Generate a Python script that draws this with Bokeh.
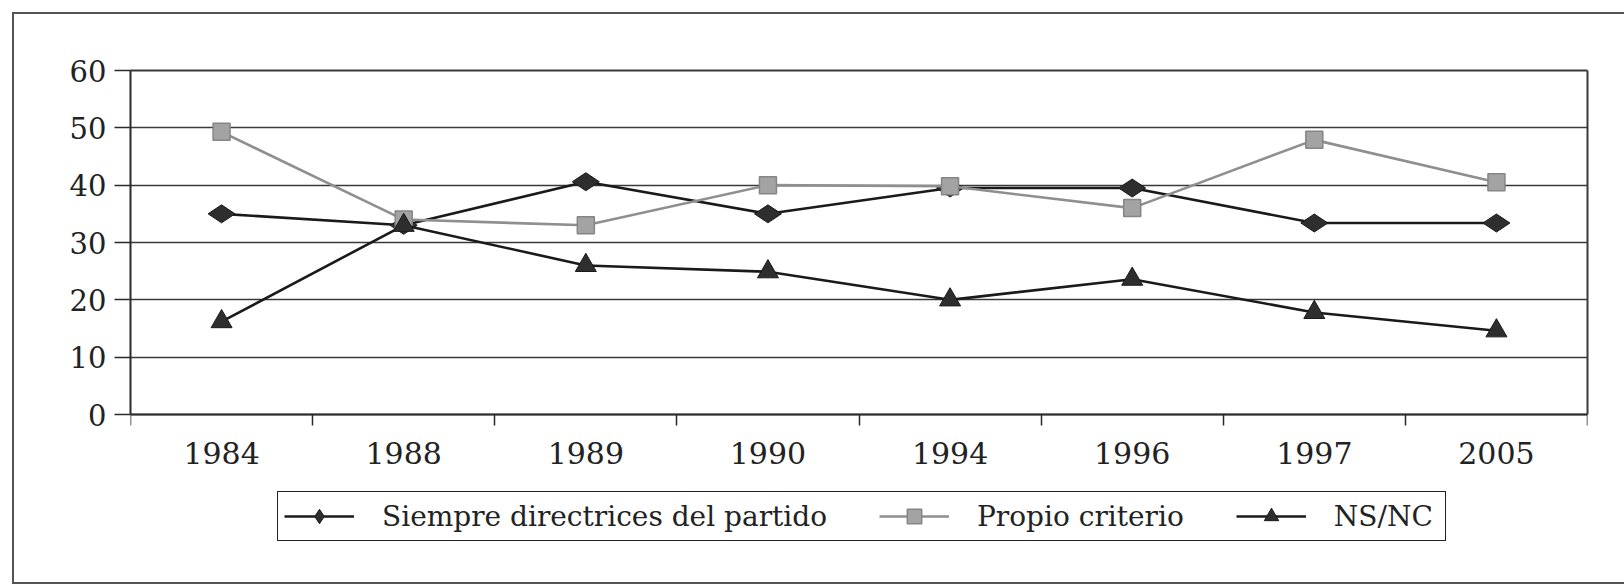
import math
from bokeh.plotting import figure
from bokeh.models import (Range1d, FixedTicker, Legend, LegendItem, LinearAxis,
                          GlobalInlineStyleSheet)
from bokeh.embed import file_html
from bokeh.resources import INLINE

years = ["1984", "1988", "1989", "1990", "1994", "1996", "1997", "2005"]
siempre = [35.0, 33.0, 40.6, 35.0, 39.5, 39.5, 33.4, 33.4]
propio = [49.3, 34.0, 33.0, 40.0, 39.8, 36.0, 47.9, 40.5]
nsnc = [16.2, 33.0, 26.0, 24.9, 20.0, 23.6, 17.8, 14.6]
series_names = ["Siempre directrices del partido", "Propio criterio", "NS/NC"]
y_ticks = [0, 10, 20, 30, 40, 50, 60]

x = [i + 0.5 for i in range(len(years))]
FONT = "DejaVu Serif"

# layout (pixels): plot area 344 px tall for the value range, extra room below for
# the category labels and the legend inside the same frame
PLOT_H = 344
EXTRA_BELOW = 154
y_lo = y_ticks[0] - (y_ticks[-1] - y_ticks[0]) * EXTRA_BELOW / PLOT_H

p = figure(width=1624, height=584, output_backend="svg", toolbar_location=None,
           x_range=Range1d(0, len(years)), y_range=Range1d(y_lo, y_ticks[-1]),
           min_border_left=130, min_border_right=37, min_border_top=70, min_border_bottom=16,
           x_axis_location=None)

p.background_fill_color = "white"
p.border_fill_color = "white"
p.outline_line_color = None
# outer frame of the printed figure (page decoration)
p.stylesheets = [GlobalInlineStyleSheet(css=(
    "body::after { content: ''; position: fixed; left: 12px; top: 12px; "
    "width: 1700px; height: 568px; border-left: 2px solid #555; border-top: 2px solid #555; "
    "border-bottom: 2px solid #555; pointer-events: none; z-index: 1000; }"))]

# x axis drawn at value 0, labels at category centres, ticks at category boundaries
xaxis = LinearAxis(fixed_location=y_ticks[0])
xaxis.ticker = FixedTicker(ticks=x, minor_ticks=list(range(0, len(years) + 1)))
xaxis.major_label_overrides = {xi: yr for xi, yr in zip(x, years)}
xaxis.major_tick_out = 0
xaxis.major_tick_in = 0
xaxis.minor_tick_out = 11
xaxis.minor_tick_in = 0
xaxis.minor_tick_line_color = "#2a2a2a"
xaxis.minor_tick_line_width = 1.5
xaxis.axis_line_color = "#2a2a2a"
xaxis.axis_line_width = 1.8
xaxis.major_label_text_font = FONT
xaxis.major_label_text_font_size = "30px"
xaxis.major_label_text_color = "#222222"
xaxis.major_label_standoff = 16
p.add_layout(xaxis, "below")

p.xgrid.visible = False

p.yaxis.bounds = (y_ticks[0], y_ticks[-1])
p.yaxis.ticker = FixedTicker(ticks=y_ticks, minor_ticks=[])
p.yaxis.major_tick_out = 16
p.yaxis.major_tick_in = 0
p.yaxis.major_tick_line_color = "#2a2a2a"
p.yaxis.major_tick_line_width = 1.5
p.yaxis.axis_line_color = "#2a2a2a"
p.yaxis.axis_line_width = 2
p.yaxis.major_label_text_font = FONT
p.yaxis.major_label_text_font_size = "29px"
p.yaxis.major_label_text_color = "#222222"
p.yaxis.major_label_standoff = 8

p.ygrid.grid_line_color = "#3a3a3a"
p.ygrid.grid_line_width = 1.3

# right and top borders of the plot area
raxis = LinearAxis(bounds=(y_ticks[0], y_ticks[-1]), ticker=FixedTicker(ticks=[], minor_ticks=[]),
                   major_tick_out=0, major_tick_in=0, minor_tick_out=0, minor_tick_in=0,
                   major_label_text_font_size="0px", axis_line_color="#3a3a3a", axis_line_width=2)
p.add_layout(raxis, "right")
taxis = LinearAxis(ticker=FixedTicker(ticks=[], minor_ticks=[]),
                   major_tick_out=0, major_tick_in=0, minor_tick_out=0, minor_tick_in=0,
                   major_label_text_font_size="0px", axis_line_color="#3a3a3a", axis_line_width=2)
p.add_layout(taxis, "above")

# series
l1 = p.line(x, siempre, line_color="#1a1a1a", line_width=2.6)
s1 = p.scatter(x, siempre, marker="diamond", angle=math.pi / 2, size=27,
               fill_color="#2e2e2e", line_color="#1a1a1a", line_width=1)
l2 = p.line(x, propio, line_color="#8f8f8f", line_width=2.6)
s2 = p.scatter(x, propio, marker="square", size=17,
               fill_color="#a3a3a3", line_color="#858585", line_width=1.5)
l3 = p.line(x, nsnc, line_color="#1a1a1a", line_width=2.6)
s3 = p.scatter(x, nsnc, marker="triangle", size=21,
               fill_color="#2e2e2e", line_color="#1a1a1a", line_width=1)

legend = Legend(items=[
    LegendItem(label=series_names[0], renderers=[l1, s1]),
    LegendItem(label=series_names[1], renderers=[l2, s2]),
    LegendItem(label=series_names[2], renderers=[l3, s3]),
], orientation="horizontal", location=(147, 27))
legend.border_line_color = "#222222"
legend.border_line_alpha = 1
legend.border_line_width = 1.6
legend.background_fill_color = "white"
legend.background_fill_alpha = 1
legend.padding = 6
legend.margin = 0
legend.spacing = 52
legend.glyph_width = 70
legend.glyph_height = 36
legend.label_standoff = 28
legend.label_width = 105
legend.label_text_font = FONT
legend.label_text_font_size = "28px"
legend.label_text_color = "#222222"
legend.label_text_baseline = "middle"
p.add_layout(legend)

open("out.html", "w").write(file_html(p, INLINE))
